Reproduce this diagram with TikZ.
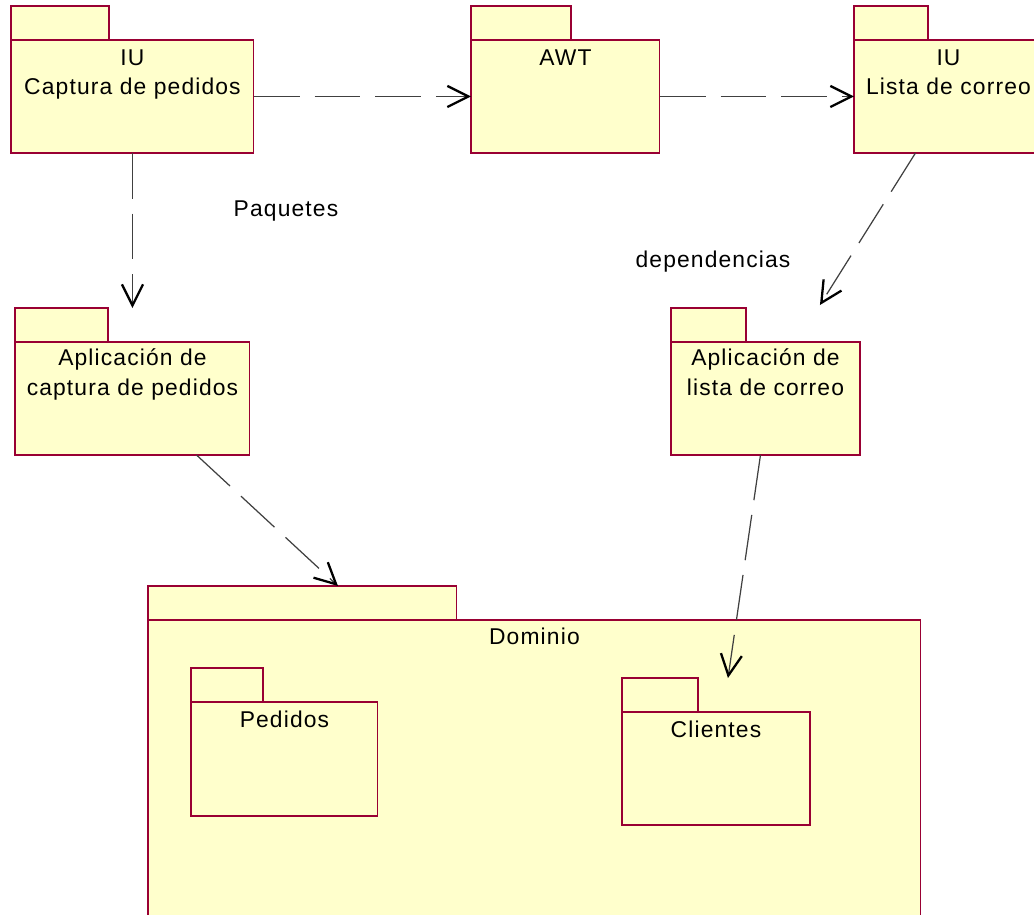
\documentclass[tikz,border=0pt]{standalone}
\usepackage{fontspec}
\setmainfont{Liberation Sans}[LetterSpace=5]
\usetikzlibrary{arrows.meta,calc,positioning}

\definecolor{pkgfill}{RGB}{255,255,204}
\definecolor{pkgline}{RGB}{153,0,51}

\begin{document}
\begin{tikzpicture}[x=0.02cm,y=-0.02cm,
    pkg/.style={draw=pkgline,fill=pkgfill,line width=0.6pt,inner sep=0pt,outer sep=0pt,anchor=north west},
    pkgtab/.style={pkg,anchor=south west,minimum height=0.68cm},
    pkgtext/.style={anchor=north,align=center,inner sep=0pt,font=\fontsize{13}{17}\selectfont,yshift=-0.18cm},
    dep/.style={draw=black!75,line width=0.7pt,dash pattern=on 26pt off 8.5pt,
        -{Straight Barb[length=12pt,width=12pt,line width=1.3pt,color=black]}}]

    \useasboundingbox (0,0) rectangle (1034,915);
    \clip (0,0) rectangle (1034,915);

    % top row
    \node[pkgtab,minimum width=1.96cm] (iucaptab) at (11,40) {};
    \node[pkg,minimum width=4.86cm,minimum height=2.26cm] (iucap) at (11,40) {};
    \node[pkgtext] (iucaptxt) at (iucap.north) {IU\\Captura de pedidos};

    \node[pkgtab,minimum width=2.0cm] (awttab) at (471,40) {};
    \node[pkg,minimum width=3.78cm,minimum height=2.26cm] (awt) at (471,40) {};
    \node[pkgtext] (awttxt) at (awt.north) {AWT};

    \node[pkgtab,minimum width=1.48cm] (iulistatab) at (854,40) {};
    \node[pkg,minimum width=3.78cm,minimum height=2.26cm] (iulista) at (854,40) {};
    \node[pkgtext] (iulistatxt) at (iulista.north) {IU\\Lista de correo};

    % middle row
    \node[pkgtab,minimum width=1.86cm] (aplcaptab) at (15,342) {};
    \node[pkg,minimum width=4.7cm,minimum height=2.26cm] (aplcap) at (15,342) {};
    \node[pkgtext,yshift=0.06cm] (aplcaptxt) at (aplcap.north) {Aplicación de\\captura de pedidos};

    \node[pkgtab,minimum width=1.5cm] (aplistatab) at (671,342) {};
    \node[pkg,minimum width=3.78cm,minimum height=2.26cm] (aplista) at (671,342) {};
    \node[pkgtext,yshift=0.06cm] (aplistatxt) at (aplista.north) {Aplicación de\\lista de correo};

    % Dominio with the two inner packages
    \node[pkgtab,minimum width=6.18cm] (domtab) at (148,620) {};
    \node[pkg,minimum width=15.46cm,minimum height=6.8cm] (dom) at (148,620) {};
    \node[pkgtext,yshift=0.02cm] (domtxt) at (dom.north) {Dominio};

    \node[pkgtab,minimum width=1.44cm] (pedtab) at (191,702) {};
    \node[pkg,minimum width=3.74cm,minimum height=2.28cm] (ped) at (191,702) {};
    \node[pkgtext] (pedtxt) at (ped.north) {Pedidos};

    \node[pkgtab,minimum width=1.52cm] (clitab) at (622,712) {};
    \node[pkg,minimum width=3.76cm,minimum height=2.26cm] (cli) at (622,712) {};
    \node[pkgtext] (clitxt) at (cli.north) {Clientes};

    % labels
    \node[font=\fontsize{13}{15}\selectfont] (paq) at (286,211) {Paquetes};
    \node[font=\fontsize{13}{15}\selectfont] (dep) at (713,262) {dependencias};

    % dependencies
    \draw[dep] (iucap.east) -- (awt.west);
    \draw[dep] (awt.east) -- (iulista.west);
    \draw[dep] (iucap.south) -- (iucap.south |- aplcaptab.north);
    \draw[dep] ($(iulista.south)+(-33,0)$) -- ($(aplista.north east |- aplistatab.north)+(-40,-3)$);
    \draw[dep] ($(aplcap.south)+(64,0)$) -- ($(domtab.north west)+(190,0)$);
    \draw[dep] ($(aplista.south)+(-5,0)$) -- ($(cli.north)+(12,-34)$);
\end{tikzpicture}
\end{document}
